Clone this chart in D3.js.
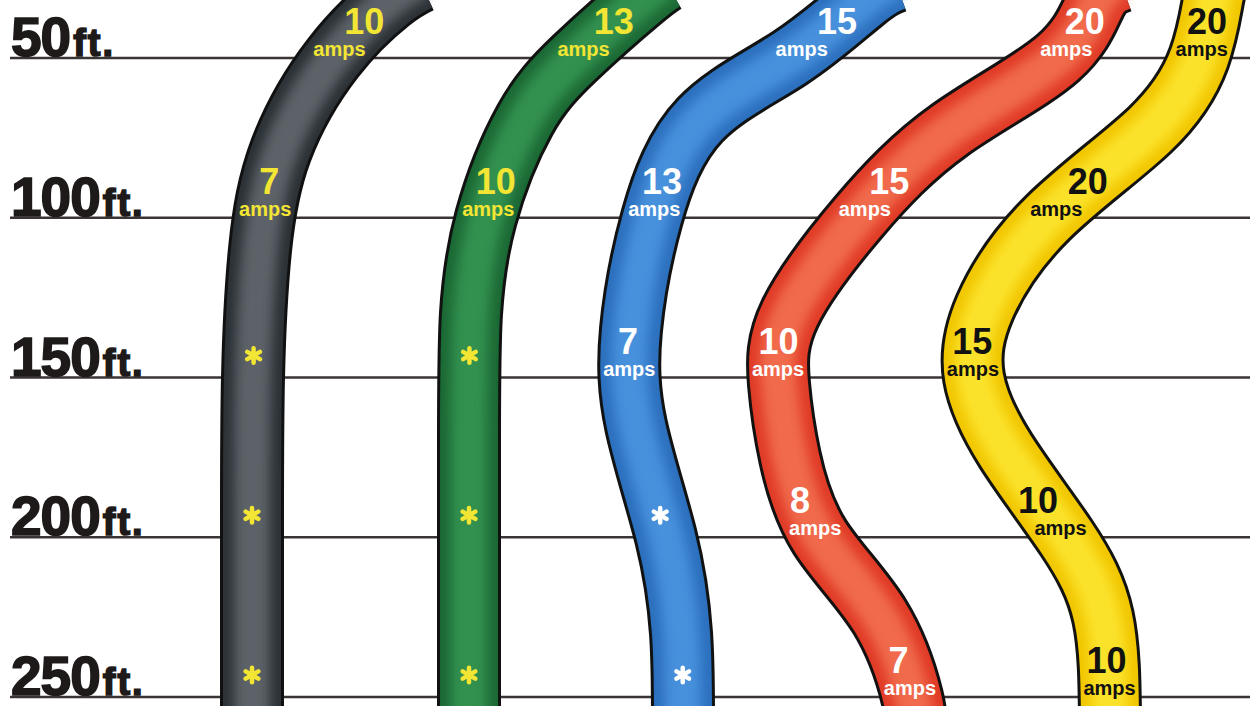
<!DOCTYPE html>
<html>
<head>
<meta charset="utf-8">
<script src="https://cdn.jsdelivr.net/npm/d3@7"></script>
<style>
  html, body { margin: 0; padding: 0; background: #fff; overflow: hidden; }
  svg { display: block; }
</style>
</head>
<body>
<svg id="chart" width="1250" height="706"></svg>
<script>
// ---------------- DATA ----------------
const lengths = [50, 100, 150, 200, 250];            // cord length (ft)
const tickLabels = ["50", "100", "150", "200", "250"];
const tickUnit = "ft.";
const cordNames = ["black", "green", "blue", "red", "yellow"];
// amps rating per length ("*" = not recommended)
const blackAmps  = [10, 7, "*", "*", "*"];
const greenAmps  = [13, 10, "*", "*", "*"];
const blueAmps   = [15, 13, 7, "*", "*"];
const redAmps    = [20, 15, 10, 8, 7];
const yellowAmps = [20, 20, 15, 10, 10];
const ampsWord = "amps";

// ---------------- GEOMETRY / STYLE ----------------
const W = 1250, H = 706;
const svg = d3.select("#chart");
const y = d3.scaleLinear().domain([50, 250]).range([58, 697]);
const x = d3.scaleLinear().domain([0, W]).range([0, W]);

// cord routes: [x, feet] control points (illustrative path)
const routes = {
  black:  [[420, 26], [390, 31.9], [333, 50], [281, 78.8], [260, 110], [253, 150], [252, 200], [252, 257]],
  green:  [[665, 26], [640, 31.9], [575, 50], [525, 69.4], [486, 100], [471, 130], [469, 170], [469, 257]],
  blue:   [[895, 26], [864, 31.9], [790, 50], [700, 69.4], [652, 100], [631, 135], [636, 165], [666, 200], [681, 230], [683, 257]],
  red:    [[1120, 26], [1097, 31.9], [1058, 50], [950, 72.5], [858, 100], [790, 130], [779, 152], [790, 175], [820, 200], [880, 225], [912, 250], [914, 257]],
  yellow: [[1218, 26], [1213, 31.9], [1199, 50], [1150, 72.5], [1048, 100], [985, 128], [974, 150], [1006, 173], [1066, 200], [1103, 225], [1110, 257]]
};
const styles = {
  black:  { edge: "#2a3035", mid: "#5c6267", text: "#f3e534", star: "#f3e534" },
  green:  { edge: "#1b6834", mid: "#33914f", text: "#f3e534", star: "#f3e534" },
  blue:   { edge: "#2b6fbd", mid: "#4690dc", text: "#ffffff", star: "#ffffff" },
  red:    { edge: "#e03a26", mid: "#f06a4c", text: "#ffffff", star: "#ffffff" },
  yellow: { edge: "#f1c600", mid: "#fbe22a", text: "#111111", star: "#111111" }
};
const ampsByCord = { black: blackAmps, green: greenAmps, blue: blueAmps, red: redAmps, yellow: yellowAmps };

const defs = svg.append("defs");
defs.append("filter").attr("id", "soft")
  .attr("x", "-50%").attr("y", "-10%").attr("width", "200%").attr("height", "120%")
  .append("feGaussianBlur").attr("stdDeviation", 6);

// ---------------- GRID ----------------
const grid = svg.append("g");
grid.selectAll("line").data(lengths).join("line")
  .attr("x1", 10).attr("x2", W)
  .attr("y1", d => y(d)).attr("y2", d => y(d))
  .attr("stroke", "#3b3434").attr("stroke-width", 2.5);

const lab = grid.selectAll("text").data(lengths).join("text")
  .attr("x", 11).attr("y", d => y(d) - 2)
  .attr("font-family", "'Liberation Sans', Arial, sans-serif")
  .attr("font-weight", "bold")
  .attr("fill", "#1e1a1a")
  .attr("stroke", "#1e1a1a").attr("stroke-width", 1.6);
lab.append("tspan").attr("font-size", 55).attr("letter-spacing", -1)
  .text((d, i) => tickLabels[i]);
lab.append("tspan").attr("font-size", 38).attr("dx", 3).attr("letter-spacing", 2)
  .text(tickUnit);

// ---------------- CORDS ----------------
const line = d3.line().x(d => x(d[0])).y(d => y(d[1])).curve(d3.curveNatural);
const cordG = svg.append("g");

function makeLookup(pathNode) {
  const L = pathNode.getTotalLength();
  const pts = [];
  for (let s = 0; s <= L; s += 1) pts.push(pathNode.getPointAtLength(s));
  pts.sort((a, b) => a.y - b.y);
  return function (yy) {
    let i = d3.bisector(p => p.y).left(pts, yy);
    if (i <= 0) return pts[0].x;
    if (i >= pts.length) return pts[pts.length - 1].x;
    const a = pts[i - 1], b = pts[i];
    const t = (yy - a.y) / ((b.y - a.y) || 1);
    return a.x + t * (b.x - a.x);
  };
}

cordNames.forEach(name => {
  const st = styles[name];
  const g = cordG.append("g");
  const dStr = line(routes[name]);
  g.append("path").attr("d", dStr).attr("fill", "none").attr("stroke", "#111")
    .attr("stroke-width", 64);
  const base = g.append("path").attr("d", dStr).attr("fill", "none").attr("stroke", st.edge)
    .attr("stroke-width", 58);
  g.append("path").attr("d", dStr).attr("fill", "none").attr("stroke", st.mid)
    .attr("stroke-width", 36).attr("filter", "url(#soft)");
  const xAt = makeLookup(base.node());

  const amps = ampsByCord[name];
  amps.forEach((v, i) => {
    const gy = y(lengths[i]);
    if (v === "*") {
      const sy = gy - 22;
      g.append("path")
        .attr("d", d3.symbol(d3.symbolAsterisk, 150)())
        .attr("transform", `translate(${xAt(sy)},${sy})`)
        .attr("fill", "none").attr("stroke", st.star)
        .attr("stroke-width", 4.5).attr("stroke-linecap", "round");
    } else {
      const ny = gy - 24, ay = gy - 2;
      g.append("text").attr("x", xAt(ny - 13) - 2).attr("y", ny)
        .attr("text-anchor", "middle")
        .attr("font-family", "'Liberation Sans Narrow', 'Liberation Sans', sans-serif")
        .attr("font-weight", "bold").attr("font-size", 36)
        .attr("fill", st.text).text(v);
      g.append("text").attr("x", xAt(ay - 6)).attr("y", ay)
        .attr("text-anchor", "middle")
        .attr("font-family", "'Liberation Sans Narrow', 'Liberation Sans', sans-serif")
        .attr("font-weight", "bold").attr("font-size", 20)
        .attr("fill", st.text).text(ampsWord);
    }
  });
});
</script>
</body>
</html>
